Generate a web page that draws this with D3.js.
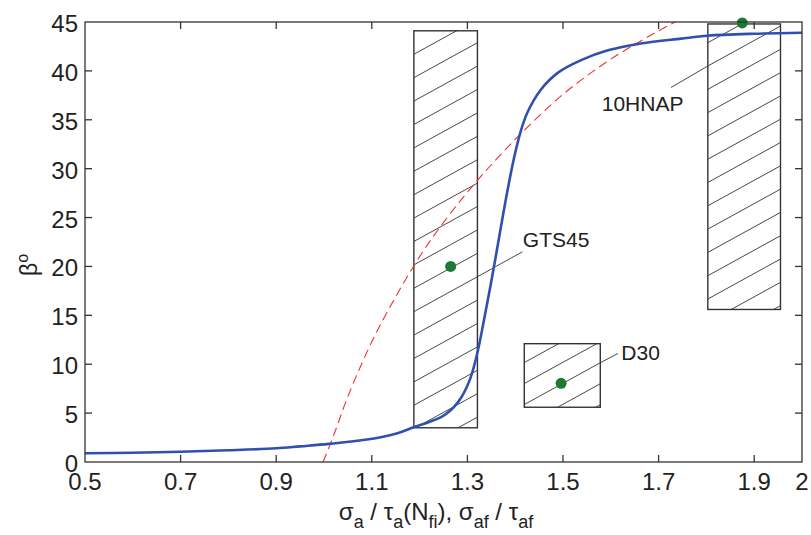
<!DOCTYPE html>
<html><head><meta charset="utf-8">
<script src="https://cdn.jsdelivr.net/npm/d3@7"></script>
<style>body{margin:0;background:#fff}svg{display:block}text{font-family:"Liberation Sans",Arial,sans-serif;fill:#222}</style>
</head><body>
<svg id="c" width="811" height="535"></svg>
<script>
// ---- data ----
const xTicks = [0.5, 0.7, 0.9, 1.1, 1.3, 1.5, 1.7, 1.9, 2];
const xTickLabels = ["0.5", "0.7", "0.9", "1.1", "1.3", "1.5", "1.7", "1.9", "2"];
const yTicks = [0, 5, 10, 15, 20, 25, 30, 35, 40, 45];
const blueX = [0.5, 0.6, 0.7, 0.8, 0.9, 0.95, 1.01, 1.09, 1.15, 1.19, 1.22, 1.245, 1.265, 1.28, 1.293, 1.305, 1.315, 1.325, 1.335, 1.349, 1.36, 1.37, 1.384, 1.398, 1.412, 1.426, 1.454, 1.489, 1.538, 1.594, 1.663, 1.747, 1.803, 1.9, 2.0];
const blueY = [0.9, 0.95, 1.05, 1.2, 1.4, 1.6, 1.85, 2.3, 2.9, 3.6, 4.1, 4.6, 5.3, 6.1, 7.1, 8.4, 10.0, 12.1, 14.6, 18.2, 21.2, 24.0, 27.8, 31.2, 33.9, 35.8, 38.1, 39.8, 41.1, 42.1, 42.8, 43.3, 43.6, 43.8, 43.9];
const redX = [0.998, 1.02, 1.05, 1.1, 1.15, 1.2, 1.25, 1.3, 1.35, 1.4, 1.45, 1.5, 1.55, 1.6, 1.65, 1.7, 1.75];
const redY = [0, 2.7, 6.7, 12.3, 16.9, 21.0, 24.5, 27.6, 30.4, 33.0, 35.4, 37.6, 39.5, 41.2, 42.7, 44.1, 45.4];
const specimens = ["GTS45", "D30", "10HNAP"];
const boxX0 = [1.188, 1.419, 1.803];
const boxX1 = [1.321, 1.578, 1.955];
const boxY0 = [3.5, 5.6, 15.6];
const boxY1 = [44.1, 12.1, 44.8];
const pointX = [1.265, 1.496, 1.875];
const pointY = [20, 8.05, 44.9];
// leader lines: from box edge to label
const leadX0 = [1.321, 1.578, 1.803];
const leadY0 = [18.95, 10.15, 40.5];
const leadX1 = [1.415, 1.615, 1.726];
const leadY1 = [21.5, 11.1, 38.3];
const labelX = [1.416, 1.622, 1.581];
const labelY = [22.0, 10.4, 35.9];

// ---- layout ----
const L = 85, R = 802, T = 22, B = 462;
const svg = d3.select("#c");
const x = d3.scaleLinear().domain([0.5, 2]).range([L, R]);
const y = d3.scaleLinear().domain([0, 45]).range([B, T]);

svg.append("defs").append("clipPath").attr("id", "plot")
  .append("rect").attr("x", L).attr("y", T).attr("width", R - L).attr("height", B - T);

// hatched boxes
const hatchSlope = 0.55, hatchSpacing = [23.4, 21, 23.3];
specimens.forEach((s, i) => {
  const bx0 = x(boxX0[i]), bx1 = x(boxX1[i]), by0 = y(boxY1[i]), by1 = y(boxY0[i]);
  const cid = "bx" + i;
  svg.select("defs").append("clipPath").attr("id", cid)
    .append("rect").attr("x", bx0).attr("y", by0).attr("width", bx1 - bx0).attr("height", by1 - by0);
  const ax = x(leadX0[i]), ay = y(leadY0[i]);
  const g = svg.append("g").attr("clip-path", `url(#${cid})`);
  const sp = hatchSpacing[i];
  for (let k = -40; k <= 40; k++) {
    const yl = ay + k * sp + hatchSlope * (ax - bx0);
    const yr = ay + k * sp - hatchSlope * (bx1 - ax);
    if (yr > by1 + 1 || yl < by0 - 1) continue;
    g.append("line").attr("x1", bx0).attr("y1", yl).attr("x2", bx1).attr("y2", yr)
      .attr("stroke", "#333").attr("stroke-width", 0.9);
  }
  svg.append("rect").attr("x", bx0).attr("y", by0).attr("width", bx1 - bx0).attr("height", by1 - by0)
    .attr("fill", "none").attr("stroke", "#333").attr("stroke-width", 1.4);
  svg.append("line").attr("x1", x(leadX0[i])).attr("y1", y(leadY0[i]))
    .attr("x2", x(leadX1[i])).attr("y2", y(leadY1[i]))
    .attr("stroke", "#333").attr("stroke-width", 0.9);
  svg.append("text").attr("x", x(labelX[i])).attr("y", y(labelY[i]))
    .attr("font-size", 21).text(s);
});

// curves
const line = d3.line().x(d => x(d[0])).y(d => y(d[1])).curve(d3.curveCatmullRom.alpha(0.5));
const gc = svg.append("g").attr("clip-path", "url(#plot)");
gc.append("path").datum(redX.map((v, i) => [v, redY[i]])).attr("d", line)
  .attr("fill", "none").attr("stroke", "#f03030").attr("stroke-width", 1.1).attr("stroke-dasharray", "9,5");
gc.append("path").datum(blueX.map((v, i) => [v, blueY[i]])).attr("d", line)
  .attr("fill", "none").attr("stroke", "#3050b0").attr("stroke-width", 2.6);

// points
svg.append("g").selectAll("circle").data(pointX).join("circle")
  .attr("cx", d => x(d)).attr("cy", (d, i) => y(pointY[i])).attr("r", 5.5).attr("fill", "#1c7a34");

// axes frame with inward ticks
const frame = svg.append("g").attr("stroke", "#333").attr("stroke-width", 1.3);
frame.append("rect").attr("x", L).attr("y", T).attr("width", R - L).attr("height", B - T).attr("fill", "none");
const tl = 7;
xTicks.forEach(t => {
  if (t === 0.5 || t === 2) return;
  frame.append("line").attr("x1", x(t)).attr("x2", x(t)).attr("y1", B).attr("y2", B - tl);
  frame.append("line").attr("x1", x(t)).attr("x2", x(t)).attr("y1", T).attr("y2", T + tl);
});
yTicks.forEach(t => {
  if (t === 0 || t === 45) return;
  frame.append("line").attr("x1", L).attr("x2", L + tl).attr("y1", y(t)).attr("y2", y(t));
  frame.append("line").attr("x1", R).attr("x2", R - tl).attr("y1", y(t)).attr("y2", y(t));
});
svg.append("g").selectAll("text").data(xTicks).join("text")
  .attr("x", d => x(d)).attr("y", B + 28).attr("text-anchor", "middle").attr("font-size", 24)
  .text((d, i) => xTickLabels[i]);
svg.append("g").selectAll("text").data(yTicks).join("text")
  .attr("x", L - 7).attr("y", d => y(d) + 10).attr("text-anchor", "end").attr("font-size", 24)
  .text(d => d);

// axis labels
const xl = svg.append("text").attr("x", 436).attr("y", 520).attr("text-anchor", "middle").attr("font-size", 24);
const parts = [["σ", 0], ["a", 1], [" / τ", 0], ["a", 1], ["(N", 0], ["fi", 1], ["), σ", 0], ["af", 1], [" / τ", 0], ["af", 1]];
let sub = false;
parts.forEach(([t, s]) => {
  const ts = xl.append("tspan").text(t);
  if (s && !sub) { ts.attr("dy", 8).attr("font-size", 18); sub = true; }
  else if (s) { ts.attr("font-size", 18); }
  else if (!s && sub) { ts.attr("dy", -8); sub = false; }
});
const yl = svg.append("text").attr("transform", "translate(37,265) rotate(-90)")
  .attr("text-anchor", "middle").attr("font-size", 23);
yl.append("tspan").text("β");
yl.append("tspan").attr("dy", -9).attr("font-size", 16).text("o");
</script>
</body></html>
